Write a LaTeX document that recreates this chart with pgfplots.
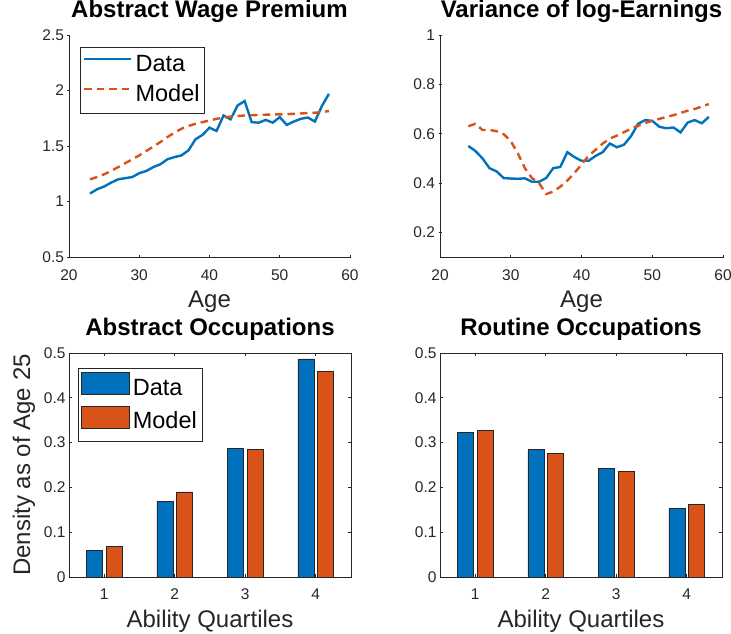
\documentclass[border=0pt]{standalone}
\usepackage{fontspec}
\setmainfont{Liberation Sans}
\usepackage{pgfplots}
\pgfplotsset{compat=1.18}
\definecolor{mblue}{rgb}{0,0.447,0.741}
\definecolor{morange}{rgb}{0.85,0.325,0.098}
\definecolor{axgray}{rgb}{0.15,0.15,0.15}
\pgfplotsset{
  common/.style={
    scale only axis,
    /pgf/number format/assume math mode=true,
    tick label style={font=\fontsize{15.5}{18}\selectfont, text=axgray},
    xticklabel style={anchor=base, yshift=-22.5pt},
    axis line style={axgray, line width=0.6pt},
    tick style={axgray, line width=0.6pt},
    major tick length=3pt, tick align=inside,
    title style={font=\fontsize{24}{28}\selectfont\bfseries, at={(axis description cs:0.5,1)}, anchor=base, yshift=11pt},
    xlabel style={font=\fontsize{24}{28}\selectfont, text=axgray, at={(axis description cs:0.5,0)}, anchor=base, yshift=-51pt},
    ylabel style={font=\fontsize{24}{28}\selectfont, text=axgray, at={(axis description cs:-0.138,0.5)}, anchor=base},
    legend style={font=\fontsize{23.5}{26}\selectfont, draw=axgray, anchor=north west,
      inner xsep=3pt, inner ysep=4pt, row sep=2pt,
      nodes={text height=18pt, text depth=6pt, inner sep=2pt},
      /tikz/every odd column/.append style={column sep=1pt}},
    legend cell align=left,
  },
  lineax/.style={common, axis x line=bottom, axis y line=left, axis line style={-},
    xmin=20, xmax=60, xtick={20,30,40,50,60}, width=281pt, height=222pt,
    legend image code/.code={\draw[##1, line width=2.4pt] (0pt,6pt) -- (47pt,6pt);}},
  barax/.style={common, xmin=0.5, xmax=4.5, xtick={1,2,3,4}, ymin=0, ymax=0.5,
    ytick={0,0.1,0.2,0.3,0.4,0.5}, width=282pt, height=224pt,
    legend image code/.code={\draw[##1, draw=black!85, line width=0.6pt] (1pt,-5pt) rectangle (49pt,17pt);}},
  dline/.style={mblue, line width=2.4pt},
  mline/.style={morange, line width=2.4pt, dash pattern=on 7.5pt off 5pt},
  dbar/.style={ybar, bar width=0.225, bar shift=-0.14, fill=mblue, draw=black!85, line width=0.6pt},
  mbar/.style={ybar, bar width=0.225, bar shift=0.14, fill=morange, draw=black!85, line width=0.6pt},
}
\begin{document}
\begin{tikzpicture}
\path[use as bounding box] (0pt,0pt) rectangle (731pt,634pt);
% Panel 1
\begin{axis}[lineax, at={(69pt,377pt)}, anchor=south west,
  ymin=0.5, ymax=2.5, ytick={0.5,1,1.5,2,2.5},
  title={Abstract Wage Premium}, xlabel={Age},
  legend style={at={(axis description cs:0.039,0.946)}}]
\addplot[dline] coordinates {
(23,1.072)(24,1.11)(25,1.135)(26,1.17)(27,1.20)(28,1.21)(29,1.22)(30,1.255)(31,1.275)(32,1.31)
(33,1.335)(34,1.38)(35,1.40)(36,1.415)(37,1.46)(38,1.56)(39,1.60)(40,1.665)(41,1.635)(42,1.775)
(43,1.74)(44,1.865)(45,1.905)(46,1.715)(47,1.71)(48,1.735)(49,1.71)(50,1.76)(51,1.69)(52,1.72)
(53,1.745)(54,1.757)(55,1.72)(56,1.86)(57,1.97)};
\addlegendentry{Data}
\addplot[mline] coordinates {
(23,1.20)(24,1.22)(25,1.245)(26,1.275)(27,1.31)(28,1.345)(29,1.38)(30,1.415)(31,1.455)(32,1.495)
(33,1.535)(34,1.58)(35,1.62)(36,1.655)(37,1.68)(38,1.70)(39,1.715)(40,1.73)(41,1.745)(42,1.755)
(43,1.765)(44,1.77)(45,1.775)(46,1.777)(47,1.78)(48,1.782)(49,1.784)(50,1.785)(51,1.787)(52,1.79)
(53,1.793)(54,1.797)(55,1.80)(56,1.805)(57,1.815)};
\addlegendentry{Model}
\end{axis}
% Panel 2
\begin{axis}[lineax, at={(440pt,377pt)}, anchor=south west, width=283pt,
  ymin=0.1, ymax=1, ytick={0.2,0.4,0.6,0.8,1},
  title={Variance of log-Earnings}, xlabel={Age}]
\addplot[dline] coordinates {
(24,0.55)(25,0.53)(26,0.50)(27,0.46)(28,0.447)(29,0.42)(30,0.418)(31,0.417)(32,0.419)(33,0.405)
(34,0.405)(35,0.42)(36,0.46)(37,0.465)(38,0.525)(39,0.505)(40,0.49)(41,0.49)(42,0.51)(43,0.525)
(44,0.56)(45,0.545)(46,0.555)(47,0.59)(48,0.64)(49,0.655)(50,0.652)(51,0.628)(52,0.622)(53,0.625)
(54,0.605)(55,0.645)(56,0.655)(57,0.642)(58,0.668)};
\addplot[mline] coordinates {
(24,0.63)(25,0.64)(26,0.615)(27,0.615)(28,0.61)(29,0.598)(30,0.57)(31,0.52)(32,0.46)(33,0.42)
(34,0.40)(35,0.355)(36,0.365)(37,0.385)(38,0.41)(39,0.44)(40,0.475)(41,0.51)(42,0.535)(43,0.56)
(44,0.58)(45,0.592)(46,0.606)(47,0.62)(48,0.632)(49,0.643)(50,0.652)(51,0.66)(52,0.668)(53,0.675)
(54,0.684)(55,0.693)(56,0.70)(57,0.71)(58,0.72)};
\end{axis}
% Panel 3
\begin{axis}[barax, at={(69pt,57pt)}, anchor=south west,
  title={Abstract Occupations}, xlabel={Ability Quartiles}, ylabel={Density as of Age 25},
  legend style={at={(axis description cs:0.032,0.933)}}]
\addplot[dbar] coordinates {(1,0.060)(2,0.169)(3,0.287)(4,0.487)};
\addlegendentry{Data}
\addplot[mbar] coordinates {(1,0.069)(2,0.190)(3,0.284)(4,0.459)};
\addlegendentry{Model}
\end{axis}
% Panel 4
\begin{axis}[barax, at={(440pt,57pt)}, anchor=south west,
  title={Routine Occupations}, xlabel={Ability Quartiles}]
\addplot[dbar] coordinates {(1,0.322)(2,0.284)(3,0.243)(4,0.154)};
\addplot[mbar] coordinates {(1,0.328)(2,0.276)(3,0.236)(4,0.162)};
\end{axis}
\end{tikzpicture}
\end{document}
